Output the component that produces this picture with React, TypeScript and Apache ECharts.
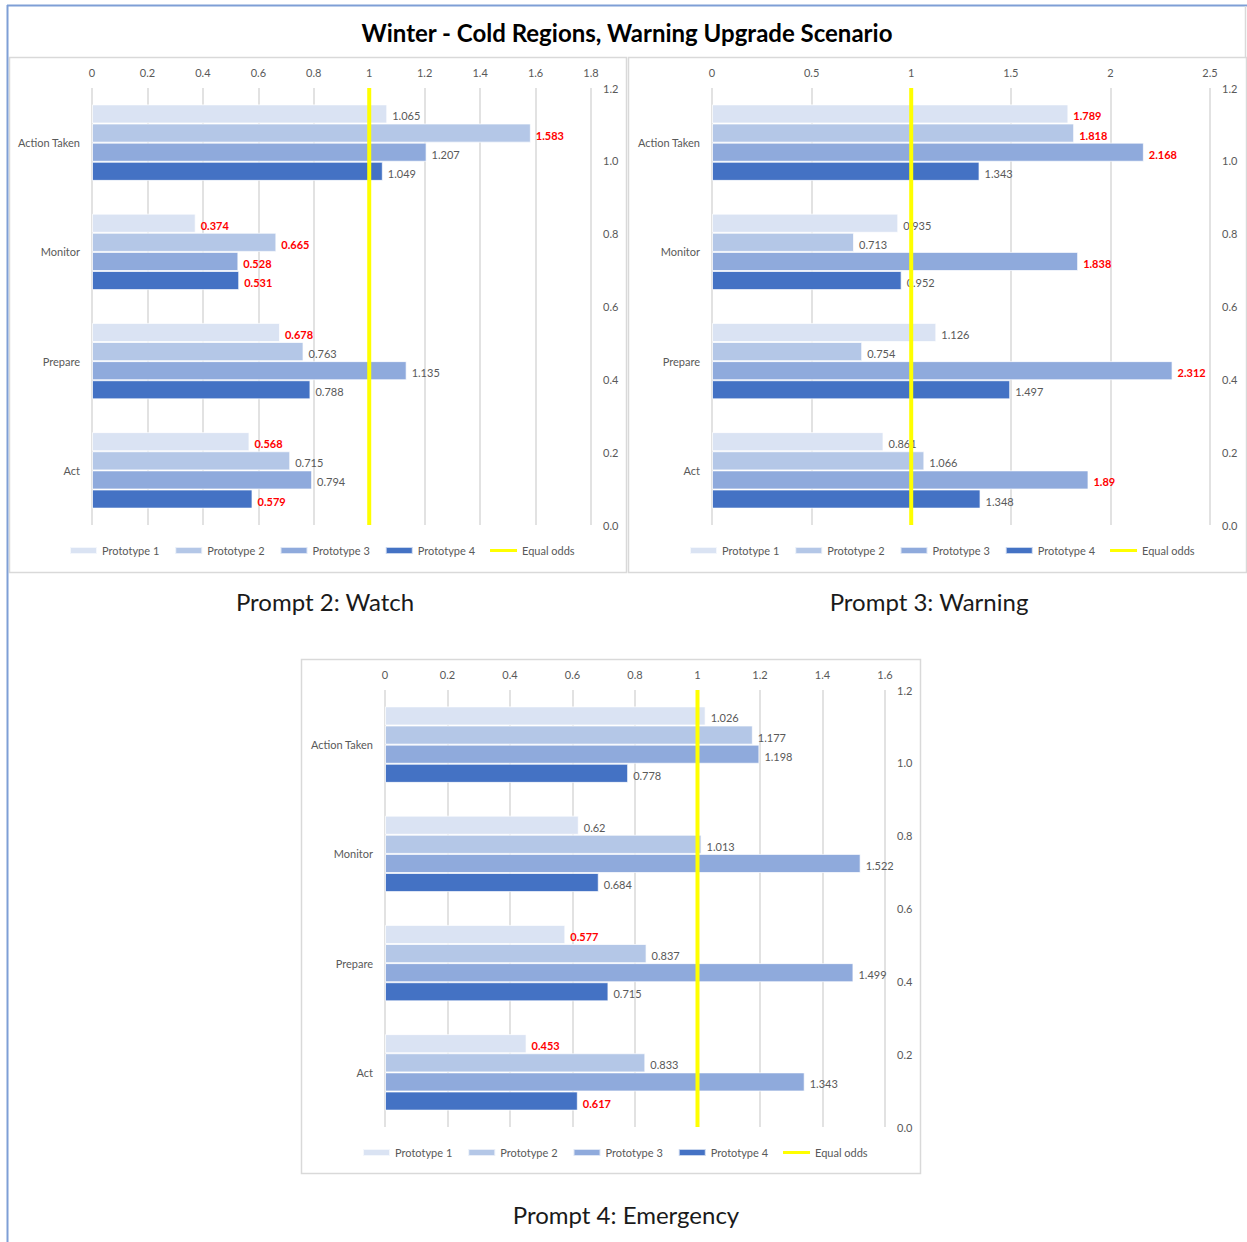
import React, { useEffect, useRef } from "react";
import * as echarts from "echarts";

const categories = ["Action Taken", "Monitor", "Prepare", "Act"];
const seriesNames = ["Prototype 1", "Prototype 2", "Prototype 3", "Prototype 4"];
const barColors = ["#dae3f3", "#b4c7e7", "#8faadc", "#4472c4"];
const equalOddsName = "Equal odds";
const equalOddsX = 1;
const secondaryTicks = [0, 1.2];

// Prompt 2: Watch (values per category: Action Taken, Monitor, Prepare, Act)
const watchP1 = [1.065, 0.374, 0.678, 0.568];
const watchP2 = [1.583, 0.665, 0.763, 0.715];
const watchP3 = [1.207, 0.528, 1.135, 0.794];
const watchP4 = [1.049, 0.531, 0.788, 0.579];
const watchSig1 = [false, true, true, true];
const watchSig2 = [true, true, false, false];
const watchSig3 = [false, true, false, false];
const watchSig4 = [false, true, false, true];

// Prompt 3: Warning
const warnP1 = [1.789, 0.935, 1.126, 0.861];
const warnP2 = [1.818, 0.713, 0.754, 1.066];
const warnP3 = [2.168, 1.838, 2.312, 1.89];
const warnP4 = [1.343, 0.952, 1.497, 1.348];
const warnSig1 = [true, false, false, false];
const warnSig2 = [true, false, false, false];
const warnSig3 = [true, true, true, true];
const warnSig4 = [false, false, false, false];

// Prompt 4: Emergency
const emerP1 = [1.026, 0.62, 0.577, 0.453];
const emerP2 = [1.177, 1.013, 0.837, 0.833];
const emerP3 = [1.198, 1.522, 1.499, 1.343];
const emerP4 = [0.778, 0.684, 0.715, 0.617];
const emerSig1 = [false, false, true, true];
const emerSig2 = [false, false, false, false];
const emerSig3 = [false, false, false, false];
const emerSig4 = [false, false, false, true];

const titleText = "Winter - Cold Regions, Warning Upgrade Scenario";
const captions = ["Prompt 2: Watch", "Prompt 3: Warning", "Prompt 4: Emergency"];

const FONT = "Lato, 'Open Sans', sans-serif";
const GRAY = "#595959";
const LINE_ICON = "path://M0 0h0.01v0.01H0z M0 1.75h30v3.5H0z M0 7h0.01v0.01H0z";

const panels = [
  {
    values: [watchP1, watchP2, watchP3, watchP4],
    sig: [watchSig1, watchSig2, watchSig3, watchSig4],
    xMax: 1.8, xInterval: 0.2,
    grid: { left: 92, top: 88, width: 499, height: 437 },
    legend: { left: 69, top: 545 },
    box: { x: 9, y: 57, w: 617, h: 515 },
    caption: { x: 325, y: 601 },
  },
  {
    values: [warnP1, warnP2, warnP3, warnP4],
    sig: [warnSig1, warnSig2, warnSig3, warnSig4],
    xMax: 2.5, xInterval: 0.5,
    grid: { left: 712, top: 88, width: 498, height: 437 },
    legend: { left: 689, top: 545 },
    box: { x: 628, y: 57, w: 618, h: 515 },
    caption: { x: 929, y: 601 },
  },
  {
    values: [emerP1, emerP2, emerP3, emerP4],
    sig: [emerSig1, emerSig2, emerSig3, emerSig4],
    xMax: 1.6, xInterval: 0.2,
    grid: { left: 385, top: 690, width: 500, height: 437 },
    legend: { left: 362, top: 1147 },
    box: { x: 301, y: 659, w: 619, h: 514 },
    caption: { x: 626, y: 1214 },
  },
];

function buildOption() {
  const grid: any[] = [];
  const xAxis: any[] = [];
  const yAxis: any[] = [];
  const series: any[] = [];
  const legend: any[] = [];
  const graphic: any[] = [];

  panels.forEach((p, k) => {
    grid.push({ ...p.grid, containLabel: false });
    xAxis.push({
      type: "value",
      gridIndex: k,
      position: "top",
      min: 0,
      max: p.xMax,
      interval: p.xInterval,
      axisLine: { show: false },
      axisTick: { show: false },
      axisLabel: { color: GRAY, fontSize: 11, fontFamily: FONT, margin: 10 },
      splitLine: { show: true, lineStyle: { color: "#d9d9d9", width: 1.5 } },
    });
    yAxis.push({
      type: "category",
      gridIndex: k,
      data: categories,
      inverse: true,
      axisLine: { show: false },
      axisTick: { show: false },
      axisLabel: { color: GRAY, fontSize: 11, fontFamily: FONT, margin: 12 },
      splitLine: { show: false },
    });
    yAxis.push({
      type: "value",
      gridIndex: k,
      position: "right",
      min: secondaryTicks[0],
      max: secondaryTicks[1],
      interval: 0.2,
      axisLine: { show: false },
      axisTick: { show: false },
      splitLine: { show: false },
      axisLabel: {
        color: GRAY,
        fontSize: 11,
        fontFamily: FONT,
        margin: 12,
        formatter: (v: number) => v.toFixed(1),
      },
    });

    p.values.forEach((vals, s) => {
      series.push({
        name: seriesNames[s],
        type: "bar",
        xAxisIndex: k,
        yAxisIndex: k * 2,
        barGap: "0%",
        barCategoryGap: "30%",
        itemStyle: { color: barColors[s], borderColor: "rgba(255,255,255,0.7)", borderWidth: 1 },
        label: {
          show: true,
          position: "right",
          distance: 5,
          fontSize: 11,
          fontFamily: FONT,
          color: GRAY,
          offset: [0, 2],
        },
        data: vals.map((v, i) => ({
          value: v,
          label: p.sig[s][i]
            ? { color: "#ff0000", fontWeight: "bold" }
            : { color: GRAY, fontWeight: "normal" },
        })),
        z: 2,
      });
    });
    series.push({
      name: equalOddsName,
      type: "line",
      xAxisIndex: k,
      yAxisIndex: k * 2 + 1,
      symbol: "none",
      lineStyle: { color: "#ffff00", width: 4 },
      itemStyle: { color: "#ffff00" },
      data: [
        [equalOddsX, secondaryTicks[0]],
        [equalOddsX, secondaryTicks[1]],
      ],
      z: 3,
    });

    legend.push({
      left: p.legend.left,
      top: p.legend.top,
      padding: 0,
      orient: "horizontal",
      itemWidth: 27,
      itemHeight: 7,
      itemGap: 15,
      selectedMode: false,
      textStyle: { color: GRAY, fontSize: 11, fontFamily: FONT },
      data: [
        ...seriesNames.map((n) => ({ name: n, icon: "rect" })),
        { name: equalOddsName, icon: LINE_ICON, itemStyle: { color: "#ffff00" } },
      ],
    });

    graphic.push({
      type: "rect",
      shape: { x: p.box.x + 0.5, y: p.box.y + 0.5, width: p.box.w, height: p.box.h },
      style: { fill: "none", stroke: "#d9d9d9", lineWidth: 1.5 },
      silent: true,
      z: -1,
    });
    graphic.push({
      type: "text",
      x: p.caption.x,
      y: p.caption.y,
      style: {
        text: captions[k],
        fontSize: 24,
        fontFamily: FONT,
        fill: "#1a1a1a",
        textAlign: "center",
        textVerticalAlign: "middle",
      },
      silent: true,
    });
  });

  // outer frame (left and top blue lines)
  graphic.push({
    type: "line",
    shape: { x1: 7.5, y1: 5, x2: 7.5, y2: 1242 },
    style: { stroke: "#7f9fd6", lineWidth: 2 },
    silent: true,
  });
  graphic.push({
    type: "line",
    shape: { x1: 7, y1: 5.5, x2: 1247, y2: 5.5 },
    style: { stroke: "#7f9fd6", lineWidth: 2 },
    silent: true,
  });
  graphic.push({
    type: "line",
    shape: { x1: 1245.5, y1: 6, x2: 1245.5, y2: 57 },
    style: { stroke: "#d9d9d9", lineWidth: 1.5 },
    silent: true,
  });
  graphic.push({
    type: "text",
    x: 627,
    y: 32,
    style: {
      text: titleText,
      fontSize: 24,
      fontWeight: "bold",
      fontFamily: FONT,
      fill: "#000000",
      textAlign: "center",
      textVerticalAlign: "middle",
    },
    silent: true,
  });

  return {
    animation: false,
    backgroundColor: "#ffffff",
    grid,
    xAxis,
    yAxis,
    series,
    legend,
    graphic,
  };
}

export default function App() {
  const ref = useRef<HTMLDivElement>(null);
  useEffect(() => {
    document.body.style.margin = "0";
    if (!ref.current) return;
    const chart = echarts.init(ref.current, undefined, { renderer: "svg" });
    chart.setOption(buildOption());
    return () => {
      chart.dispose();
    };
  }, []);
  return <div ref={ref} style={{ width: 1247, height: 1242 }} />;
}
